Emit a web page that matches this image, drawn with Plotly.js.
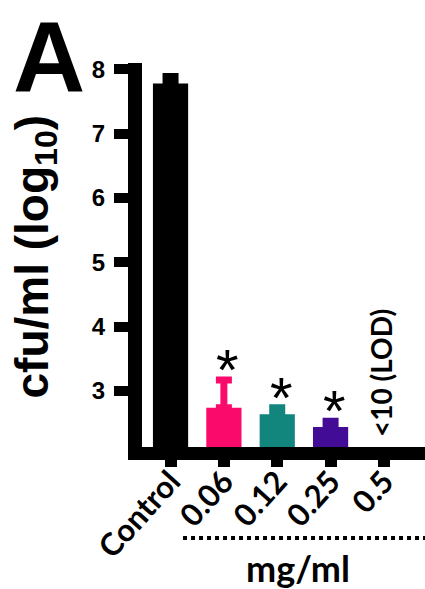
<!DOCTYPE html>
<html>
<head>
<meta charset="utf-8">
<script src="https://cdn.plot.ly/plotly-3.0.1.min.js"></script>
<style>html,body{margin:0;padding:0;background:#fff;}#chart{width:425px;height:589px;}</style>
</head>
<body>
<div id="chart"></div>
<script>
// Data
const categories = ["Control", "0.06", "0.12", "0.25", "0.5"];
const meanLog = [7.78, 2.74, 2.64, 2.44, null];   // cfu/ml (log10); 0.5 below LOD
const errPlus = [0.11, 0.43, 0.10, 0.09, null];
const barColors = ["#000000", "#FA0A6A", "#12857C", "#420C96", "#000000"];
const significant = [false, true, true, true, false];
const yTicks = [3, 4, 5, 6, 7, 8];
const lodLabel = "<10 (LOD)";
const lodCategory = "0.5";

const traces = categories.map((c, i) => ({
  type: "bar",
  x: [c],
  y: [meanLog[i]],
  width: 0.66,
  marker: {color: barColors[i], line: {width: 0}},
  error_y: {
    type: "data", symmetric: false,
    array: [errPlus[i]], arrayminus: [0],
    color: barColors[i], thickness: 7, width: 8, visible: errPlus[i] !== null
  },
  showlegend: false,
  hoverinfo: "skip"
}));

const annotations = [];
categories.forEach((c, i) => {
  if (significant[i]) {
    annotations.push({
      x: i, y: meanLog[i] + errPlus[i], xref: "x", yref: "y",
      text: "*", showarrow: false, xanchor: "center", yanchor: "bottom",
      xshift: 4, yshift: -24,
      font: {family: "Liberation Sans, Arial", size: 58, color: "#000"}
    });
  }
});
annotations.push({
  x: categories.indexOf(lodCategory), y: 0, xref: "x", yref: "paper", yshift: 8, xshift: -3,
  text: lodLabel, textangle: -90, showarrow: false,
  xanchor: "center", yanchor: "bottom",
  font: {family: "Lato, sans-serif", size: 28, color: "#000", weight: "bold"}
});
annotations.push({
  x: -0.376, y: 0.495, xref: "paper", yref: "paper",
  text: "cfu/ml (log<sub>10</sub>)", textangle: -90, showarrow: false,
  xanchor: "center", yanchor: "middle",
  font: {family: "Liberation Sans, Arial", size: 46, color: "#000", weight: "bold"}
});
annotations.push({
  x: -0.33, y: 1.015, xref: "paper", yref: "paper",
  text: "A", showarrow: false, xanchor: "center", yanchor: "middle",
  font: {family: "Liberation Sans, Arial", size: 100, color: "#000", weight: "bold"}
});
annotations.push({
  x: 0.551, y: -0.315, xref: "paper", yref: "paper",
  text: "mg/ml", showarrow: false, xanchor: "center", yanchor: "middle",
  font: {family: "Lato, sans-serif", size: 36, color: "#000", weight: "bold"}
});

const layout = {
  width: 425, height: 589,
  margin: {l: 142, r: 0, t: 63, b: 142, pad: 0},
  paper_bgcolor: "#fff", plot_bgcolor: "#fff",
  showlegend: false,
  xaxis: {
    type: "category", range: [-0.535, 4.77],
    showline: true, linewidth: 13, linecolor: "#000",
    ticks: "outside", ticklen: 7, tickwidth: 12, tickcolor: "#000",
    tickangle: -48, showgrid: false, zeroline: false, ticklabelstandoff: -16,
    tickfont: {family: "Lato, sans-serif", size: 31, color: "#000", weight: "bold"},
    fixedrange: true
  },
  yaxis: {
    range: [2.13, 8.1], tickvals: yTicks, ticktext: yTicks.map(String),
    showline: true, linewidth: 14, linecolor: "#000",
    ticks: "outside", ticklen: 14, tickwidth: 10, tickcolor: "#000",
    showgrid: false, zeroline: false, ticklabelstandoff: 4,
    tickfont: {family: "Liberation Sans, Arial", size: 24, color: "#000", weight: "bold"},
    fixedrange: true
  },
  shapes: [{
    type: "line", xref: "paper", yref: "paper",
    x0: 0.145, x1: 1.0, y0: -0.237, y1: -0.237,
    line: {color: "#000", width: 4, dash: "dot"}
  }],
  annotations: annotations
};

Plotly.newPlot("chart", traces, layout, {displayModeBar: false, staticPlot: true});
</script>
</body>
</html>
